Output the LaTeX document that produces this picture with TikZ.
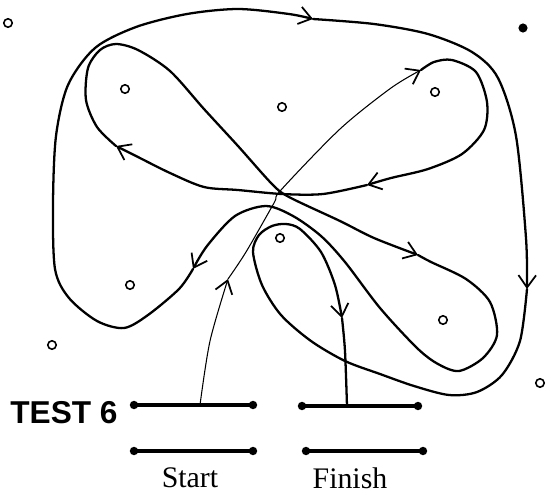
\documentclass[tikz,border=0pt]{standalone}
\usepackage{fontspec}
\setmainfont{Liberation Serif}
\newfontfamily\labelsans{Liberation Sans}
\usetikzlibrary{arrows.meta}
\tikzset{
  route/.style={line width=1.3pt,line cap=round,line join=round},
  thinroute/.style={line width=0.6pt,line cap=round},
  barb/.style={-{Straight Barb[length=7pt,width=10pt,line width=1pt]}},
  bar/.style={line width=1.8pt},
  spot/.style={line width=0.9pt}
}
\begin{document}
\begin{tikzpicture}[x=0.02cm,y=-0.02cm]
  \useasboundingbox (0,0) rectangle (549,495);
  % start and finish gates
  \coordinate (sa) at (134,405); \coordinate (sb) at (253,405);
  \coordinate (sc) at (134,451); \coordinate (sd) at (253,451);
  \coordinate (fa) at (302,406); \coordinate (fb) at (418,406);
  \coordinate (fc) at (306,451); \coordinate (fd) at (423,451);
  \draw[bar] (sa) -- (sb);
  \draw[bar] (sc) -- (sd);
  \draw[bar] (fa) -- (fb);
  \draw[bar] (fc) -- (fd);
  \foreach \p in {sa,sb,sc,sd,fa,fb,fc,fd}
    \fill (\p) circle (2.4pt);
  \coordinate (go) at (200,405);
  \coordinate (stop) at (347,406);
  % the route
  \draw[thinroute,barb] plot[smooth] coordinates {(go) (210,341) (228,279)};
  \draw[thinroute,barb] plot[smooth] coordinates {(228,279) (246,252) (274,203) (281,190) (340,129) (391,88) (421,70)};
  \draw[route,barb] plot[smooth] coordinates {(421,70) (434,62) (452,60) (476,72) (487,102) (484,130) (462,154) (428,169) (391,178) (367,185)};
  \draw[route,barb] plot[smooth] coordinates {(367,185) (323,194) (282,194) (238,190) (204,187) (170,173) (136,156) (116,146)};
  \draw[route,barb] plot[smooth] coordinates {(116,146) (97,127) (86,100) (88,68) (100,50) (116,44) (138,50) (170,71) (204,109) (238,146) (272,184) (289,197) (340,221) (374,238) (418,255)};
  \draw[route,barb] plot[smooth] coordinates {(418,255) (431,262) (466,279) (490,302) (497,335) (483,358) (459,371) (438,364) (417,348) (380,308) (345,262) (321,236) (293,216) (266,206) (235,216) (207,246) (193,269)};
  \draw[route,barb] plot[smooth] coordinates {(193,269) (179,289) (148,315) (124,328) (97,321) (69,298) (55,269) (53,204) (56,136) (68,85) (95,48) (136,27) (187,14) (238,9) (289,14) (313,19)};
  \draw[route,barb] plot[smooth] coordinates {(313,19) (374,24) (428,34) (472,52) (498,78) (516,136) (526,238) (527,289)};
  \draw[route,barb] plot[smooth] coordinates {(527,289) (520,341) (502,375) (477,392) (449,395) (414,386) (380,374) (345,361) (311,341) (281,315) (262,285) (253,252) (259,235) (272,226) (286,224) (300,229) (321,252) (335,285) (342,318)};
  \draw[route] plot[smooth] coordinates {(342,318) (345,351) (stop)};
  % markers
  \foreach \m in {(8,23),(125,89),(282,107),(435,92),(280,238),(130,285),(52,345),(443,320),(540,383)}
    \draw[spot] \m circle (2.4pt);
  \fill (523,28) circle (2.6pt);
  % labels
  \node (test) at (64,413) {\labelsans\bfseries\fontsize{18}{20}\selectfont TEST 6};
  \node (start) at (190,478) {\fontsize{17}{20}\selectfont Start};
  \node (finish) at (350,478) {\fontsize{17}{20}\selectfont Finish};
\end{tikzpicture}
\end{document}
